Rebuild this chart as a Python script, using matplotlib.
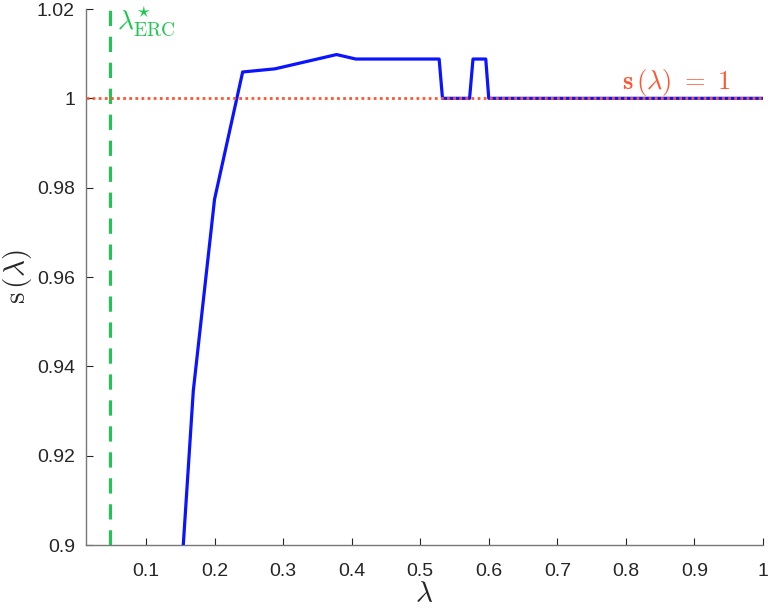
import matplotlib
matplotlib.use("Agg")
import matplotlib.pyplot as plt

lam = [0.14, 0.169, 0.2, 0.241, 0.288, 0.378, 0.406, 0.5276, 0.5325, 0.572, 0.577, 0.5956, 0.600, 1.0]
s = [0.866, 0.9345, 0.9774, 1.0059, 1.0066, 1.0098, 1.0088, 1.0088, 1.0, 1.0, 1.0088, 1.0088, 1.0, 1.0]
lam_erc = 0.048
xticks = [0.1, 0.2, 0.3, 0.4, 0.5, 0.6, 0.7, 0.8, 0.9, 1.0]
xticklabels = ["0.1", "0.2", "0.3", "0.4", "0.5", "0.6", "0.7", "0.8", "0.9", "1"]
yticks = [0.9, 0.92, 0.94, 0.96, 0.98, 1.0, 1.02]
yticklabels = ["0.9", "0.92", "0.94", "0.96", "0.98", "1", "1.02"]

plt.rcParams['mathtext.fontset'] = 'cm'
plt.rcParams['font.family'] = ['Liberation Sans', 'DejaVu Sans']

fig = plt.figure(figsize=(7.69, 6.08), dpi=100)
ax = fig.add_axes([86/769, 63/608, (763-86)/769, (545-9)/608])

blue = '#0A14FF'
red = '#FF5530'
green = '#1EC850'

ax.plot(lam, s, color=blue, lw=2.3, zorder=3)
ax.axhline(1.0, color=red, lw=2.0, ls=(0, (1, 1.2)), zorder=4)
ax.axvline(lam_erc, color=green, lw=2.2, ls=(0, (5, 3.5)), zorder=2)

ax.text(lam_erc + 0.010, 1.0170, r'$\lambda^{\star}_{\mathrm{ERC}}$', color=green,
        fontsize=20, va='center', ha='left')
ax.text(0.874, 1.0035, r'$\mathbf{s}\,(\lambda)\ =\ 1$', color=red,
        fontsize=19, va='center', ha='center')

ax.set_xlim(0.0125, 1.0)
ax.set_ylim(0.9, 1.02)
ax.set_xticks(xticks)
ax.set_xticklabels(xticklabels)
ax.set_yticks(yticks)
ax.set_yticklabels(yticklabels)
ax.tick_params(direction='in', length=5, width=0.8, colors='#262626', labelsize=14)
ax.tick_params(axis='x', pad=13)
ax.tick_params(axis='y', pad=8)
for sp in ['top', 'right']:
    ax.spines[sp].set_visible(False)
for sp in ['left', 'bottom']:
    ax.spines[sp].set_color('#777777')
    ax.spines[sp].set_linewidth(1.0)

ax.set_xlabel(r'$\lambda$', fontsize=21, color='#262626', labelpad=0)
ax.set_ylabel(r'$\mathrm{s}\,(\lambda)$', fontsize=21, color='#262626', labelpad=2)

fig.savefig('out.png', dpi=100)
